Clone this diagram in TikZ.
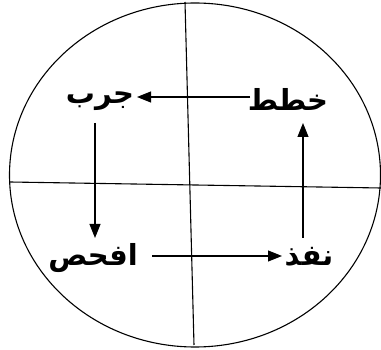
\documentclass[tikz,border=0pt]{standalone}
\usepackage{fontspec}
\newfontfamily\arabicfont[Script=Arabic,BoldFont={DejaVu Sans Bold}]{DejaVu Sans}
\TeXXeTstate=1
\usetikzlibrary{arrows.meta,calc}
\begin{document}
\begin{tikzpicture}[x=1pt,y=-1pt,
  lbl/.style={inner sep=0pt,font=\arabicfont\bfseries\fontsize{29}{31}\selectfont},
  arr/.style={line width=1.1pt,-{Triangle[length=14pt,width=11pt]}},
  thin/.style={line width=1.1pt}]
\useasboundingbox (0,0) rectangle (381,350);
\draw[thin] (195,175) ellipse [x radius=185.5, y radius=172];
\coordinate (vt) at (185,2);
\coordinate (vb) at (194,345);
\coordinate (hl) at (10,182);
\coordinate (hr) at (381,188);
\draw[thin] (vt) -- (vb);
\draw[thin] (hl) -- (hr);
\node[lbl] (khatat) at (288,99) {\beginR خطط\endR};
\node[lbl] (jarrib) at (100,101) {\beginR جرب\endR};
\node[lbl] (ifhas) at (93,258) {\beginR افحص\endR};
\node[lbl] (nafidh) at (309,257) {\beginR نفذ\endR};
\draw[arr] ($(khatat)+(-38,-2)$) -- ($(jarrib)+(37,-4)$);
\draw[arr] ($(jarrib)+(-5,22)$) -- ($(ifhas)+(2,-20)$);
\draw[arr] ($(ifhas)+(59,-2)$) -- ($(nafidh)+(-27,-1)$);
\draw[arr] ($(nafidh)+(-6,-19)$) -- ($(khatat)+(15,24)$);
\end{tikzpicture}
\end{document}
